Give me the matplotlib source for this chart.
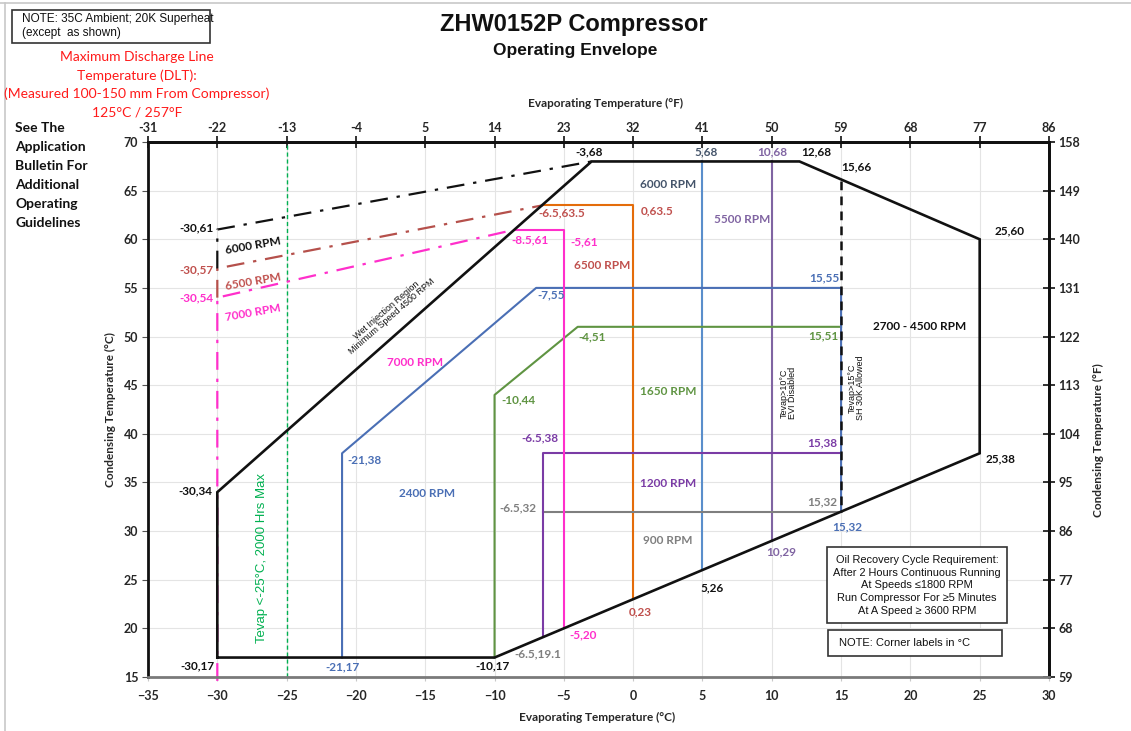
import matplotlib
matplotlib.use("Agg")
import matplotlib.pyplot as plt
from matplotlib.patches import Rectangle

# ---------------- data ----------------
envelope_x = [-30, -30, -3, 12, 25, 25, -10, -30]
envelope_y = [17, 34, 68, 68, 60, 38, 17, 17]

rpm2400_x = [-21, -21, -7, 15, 15]
rpm2400_y = [17, 38, 55, 55, 32]

rpm1650_x = [-10, -10, -4, 15]
rpm1650_y = [17, 44, 51, 51]

rpm1200_x = [-6.5, -6.5, 15]
rpm1200_y = [19.1, 38, 38]

rpm900_x = [-6.5, 15]
rpm900_y = [32, 32]

rpm7000_x = [-8.5, -5, -5]
rpm7000_y = [61, 61, 20]

rpm6500_x = [-6.5, 0, 0]
rpm6500_y = [63.5, 63.5, 23]

rpm6000_x = [5, 5]
rpm6000_y = [68, 26]

rpm5500_x = [10, 10]
rpm5500_y = [68, 29]

sh_x = [15, 15]
sh_y = [66, 32]

dlt6000_x = [-30, -30, -3]
dlt6000_y = [57, 61, 68]
dlt6500_x = [-30, -30, -6.5]
dlt6500_y = [54, 57, 63.5]
dlt7000_x = [-30, -30, -8.5]
dlt7000_y = [14.6, 54, 61]

tevap25_x = [-25, -25]
tevap25_y = [15, 70]

xticks_c = [-35, -30, -25, -20, -15, -10, -5, 0, 5, 10, 15, 20, 25, 30]
yticks_c = [15, 20, 25, 30, 35, 40, 45, 50, 55, 60, 65, 70]

# corner labels: (x, y, text, color key)
corner_labels = [
    (-30, 61, "-30,61", "k"), (-30, 57, "-30,57", "brown"), (-30, 54, "-30,54", "pink"),
    (-30, 34, "-30,34", "k"), (-30, 17, "-30,17", "k"), (-21, 38, "-21,38", "blue"),
    (-21, 17, "-21,17", "blue"), (-10, 17, "-10,17", "k"), (-10, 44, "-10,44", "green"),
    (-7, 55, "-7,55", "blue"), (-4, 51, "-4,51", "green"), (-8.5, 61, "-8.5,61", "pink"),
    (-5, 61, "-5,61", "pink"), (-6.5, 63.5, "-6.5,63.5", "brown"), (0, 63.5, "0,63.5", "brown"),
    (-3, 68, "-3,68", "k"), (5, 68, "5,68", "slate"), (10, 68, "10,68", "lpurple"),
    (12, 68, "12,68", "k"), (15, 66, "15,66", "k"), (25, 60, "25,60", "k"),
    (15, 55, "15,55", "blue"), (15, 51, "15,51", "green"), (-6.5, 38, "-6.5,38", "purple"),
    (15, 38, "15,38", "purple"), (-6.5, 32, "-6.5,32", "gray"), (15, 32, "15,32", "gray"),
    (15, 32, "15,32", "blue"), (10, 29, "10,29", "lpurple"), (5, 26, "5,26", "k"),
    (0, 23, "0,23", "brown"), (-5, 20, "-5,20", "pink"), (-6.5, 19.1, "-6.5,19.1", "gray"),
    (25, 38, "25,38", "k"),
]
# label offsets in pixels (dx, dy up), same order as corner_labels
label_offsets = [
    (-21, 2), (-21, -1), (-21, 0), (-22, 1), (-20, -8), (22, -7), (0, -9), (-2, -8),
    (24, -5), (15, -7), (14, -10), (15, -10), (20, -12), (19, -8), (24, -6), (-2, 10),
    (4, 10), (1, 10), (17, 10), (15, 14), (30, 8), (-17, 10), (-18, -9), (-3, 15),
    (-19, 10), (-25, 4), (-19, 10), (6, -15), (9, -11), (10, -18), (7, -13), (19, -6),
    (-5, -17), (21, -6),
]

C = {
    "k": "#111111", "brown": "#C0504D", "pink": "#FF2FCB", "blue": "#4A6FB5",
    "green": "#5F9442", "purple": "#7A3BA5", "lpurple": "#8064A2", "gray": "#7F7F7F",
    "slate": "#44546A", "orange": "#E46C0A", "lblue": "#5A8ECB", "tgreen": "#00B050",
}

FONT = "Lato"
ARIAL = "Liberation Sans"

W, H = 1131, 731
fig = plt.figure(figsize=(W / 100, H / 100), dpi=100)
ax = fig.add_axes([148 / W, 1 - 677 / H, (1049 - 148) / W, (677 - 142) / H])
ax.set_xlim(-35, 30)
ax.set_ylim(15, 70)

# grid
for v in xticks_c:
    ax.axvline(v, color="#e4e4e4", lw=0.8, zorder=0)
for v in yticks_c:
    ax.axhline(v, color="#e4e4e4", lw=0.8, zorder=0)

# lines
ax.plot(tevap25_x, tevap25_y, color=C["tgreen"], lw=1.0, ls=(0, (3, 2)), zorder=2)
ax.plot(dlt7000_x, dlt7000_y, color=C["pink"], lw=1.6, ls=(0, (8, 4, 1.5, 4)), zorder=2, clip_on=False)
ax.plot(dlt6500_x, dlt6500_y, color="#B5504B", lw=1.6, ls=(0, (8, 4, 1.5, 4)), zorder=2)
ax.plot(dlt6000_x, dlt6000_y, color="#111111", lw=1.6, ls=(0, (8, 4, 1.5, 4)), zorder=2)

ax.plot(rpm6500_x, rpm6500_y, color=C["orange"], lw=1.5, zorder=3)
ax.plot(rpm6000_x, rpm6000_y, color=C["lblue"], lw=1.5, zorder=3)
ax.plot(rpm5500_x, rpm5500_y, color=C["lpurple"], lw=1.5, zorder=3)
ax.plot(rpm900_x, rpm900_y, color=C["gray"], lw=1.5, zorder=3)
ax.plot(rpm1200_x, rpm1200_y, color=C["purple"], lw=1.5, zorder=3)
ax.plot(rpm1650_x, rpm1650_y, color=C["green"], lw=1.5, zorder=3)
ax.plot(rpm2400_x, rpm2400_y, color=C["blue"], lw=1.5, zorder=3)
ax.plot(rpm7000_x, rpm7000_y, color=C["pink"], lw=1.5, zorder=3)
ax.plot(sh_x, sh_y, color="#111111", lw=1.8, ls=(0, (3.5, 2.5)), zorder=4)
ax.plot(envelope_x, envelope_y, color="#111111", lw=1.9, zorder=5, solid_joinstyle="miter")

# corner labels
for (x, y, t, ck), (dx, dy) in zip(corner_labels, label_offsets):
    ax.annotate(t, (x, y), xytext=(dx, dy), textcoords="offset pixels",
                ha="center", va="center", color=C[ck], fontsize=8.5,
                fontweight="bold", family=FONT, zorder=6)

# region texts (data coordinates)
def rt(x, y, t, ck, **kw):
    d = dict(ha="center", va="center", color=C[ck], fontsize=8.5,
             fontweight="bold", family=FONT, zorder=6)
    d.update(kw)
    ax.text(x, y, t, **d)

rt(-15.7, 47.3, "7000 RPM", "pink")
rt(-14.9, 33.9, "2400 RPM", "blue")
rt(2.5, 44.3, "1650 RPM", "green")
rt(2.5, 34.9, "1200 RPM", "purple")
rt(2.5, 29.0, "900 RPM", "gray")
rt(-2.2, 57.3, "6500 RPM", "brown")
rt(2.5, 65.6, "6000 RPM", "slate")
rt(7.9, 62.0, "5500 RPM", "lpurple")
rt(20.7, 51.0, "2700 - 4500 RPM", "k")
rt(-27.4, 59.3, "6000 RPM", "k", rotation=10)
rt(-27.4, 55.6, "6500 RPM", "brown", rotation=10)
rt(-27.4, 52.5, "7000 RPM", "pink", rotation=10)

ax.text(-17.6, 52.4, "Wet Injection Region\nMinimum Speed 4500 RPM", rotation=41,
        ha="center", va="center", fontsize=6.5, family=ARIAL, color="#111111",
        linespacing=1.0, zorder=6)
ax.text(-26.8, 27.2, "Tevap <-25°C, 2000 Hrs Max", rotation=90, ha="center",
        va="center", fontsize=9.5, family=ARIAL, color=C["tgreen"], zorder=6)
ax.text(11.2, 44.2, "Tevap>10°C\nEVI Disabled", rotation=90, ha="center", va="center",
        fontsize=6.5, family=ARIAL, color="#111111", linespacing=1.0, zorder=6)
ax.text(16.1, 44.7, "Tevap>15°C\nSH 30K Allowed", rotation=90, ha="center", va="center",
        fontsize=6.5, family=ARIAL, color="#111111", linespacing=1.0, zorder=6)

# axes styling
ax.set_xticks(xticks_c)
ax.set_yticks(yticks_c)
for lab in ax.get_xticklabels() + ax.get_yticklabels():
    lab.set_fontfamily(FONT)
    lab.set_fontweight("bold")
    lab.set_fontsize(9)
    lab.set_color("#262626")
ax.tick_params(axis="x", direction="out", length=3, color="#c8c8c8", pad=6)
ax.tick_params(axis="y", direction="out", length=4, color="#555555", pad=3)
for s in ["left", "top", "right"]:
    ax.spines[s].set_color("#111111")
    ax.spines[s].set_linewidth(2)
ax.spines["bottom"].set_color("#7a7a7a")
ax.spines["bottom"].set_linewidth(2)

c2f = lambda c: c * 9 / 5 + 32
f2c = lambda f: (f - 32) * 5 / 9
secx = ax.secondary_xaxis("top", functions=(c2f, f2c))
secx.set_xticks([c2f(v) for v in xticks_c])
secx.set_xticklabels([f"{c2f(v):.0f}" for v in xticks_c])
secx.tick_params(direction="inout", length=9, width=1.2, color="#111111", pad=1)
secx.spines["top"].set_linewidth(2)
secy = ax.secondary_yaxis("right", functions=(c2f, f2c))
secy.set_yticks([c2f(v) for v in yticks_c])
secy.set_yticklabels([f"{c2f(v):.0f}" for v in yticks_c])
secy.tick_params(direction="inout", length=9, width=1.2, color="#111111", pad=2)
secy.spines["right"].set_linewidth(2)
for lab in secx.get_xticklabels() + secy.get_yticklabels():
    lab.set_fontfamily(FONT)
    lab.set_fontweight("bold")
    lab.set_fontsize(9)
    lab.set_color("#262626")

# axis titles
def ft(px, py, t, **kw):
    fig.text(px / W, 1 - py / H, t, **kw)

ft(597, 717, "Evaporating Temperature (°C)", ha="center", va="center", fontsize=8.5,
   fontweight="bold", family=FONT, color="#262626")
ft(605, 103, "Evaporating Temperature (°F)", ha="center", va="center", fontsize=8.5,
   fontweight="bold", family=FONT, color="#262626")
ft(110, 410, "Condensing Temperature (°C)", ha="center", va="center", fontsize=8.5,
   fontweight="bold", family=FONT, color="#262626", rotation=90)
ft(1098, 440, "Condensing Temperature (°F)", ha="center", va="center", fontsize=8.5,
   fontweight="bold", family=FONT, color="#262626", rotation=90)

# titles
ft(574, 25, "ZHW0152P Compressor", ha="center", va="center", fontsize=17,
   fontweight="bold", family=ARIAL, color="#111111")
ft(575, 50, "Operating Envelope", ha="center", va="center", fontsize=12.5,
   fontweight="bold", family=ARIAL, color="#111111")

# top-left note
fig.patches.append(Rectangle((12 / W, 1 - 43 / H), 198 / W, 33 / H, transform=fig.transFigure,
                             fill=False, ec="#333333", lw=1.2))
ft(22, 19, "NOTE: 35C Ambient; 20K Superheat", ha="left", va="center", fontsize=8.5,
   family=ARIAL, color="#111111")
ft(22, 33, "(except  as shown)", ha="left", va="center", fontsize=8.5,
   family=ARIAL, color="#111111")

red_lines = ["Maximum Discharge Line", "Temperature (DLT):",
             "(Measured 100-150 mm From Compressor)", "125°C / 257°F"]
for i, t in enumerate(red_lines):
    ft(137, 57 + i * 18.4, t, ha="center", va="center", fontsize=10,
       family=FONT, color="#FF1A1A")

see_lines = ["See The", "Application", "Bulletin For", "Additional", "Operating", "Guidelines"]
for i, t in enumerate(see_lines):
    ft(15, 128 + i * 18.9, t, ha="left", va="center", fontsize=10,
       fontweight="bold", family=FONT, color="#111111")

# boxes lower right
fig.patches.append(Rectangle((827 / W, 1 - 623 / H), 180 / W, 76 / H, transform=fig.transFigure,
                             fc="white", ec="#333333", lw=1.2, zorder=10))
oil_lines = ["Oil Recovery Cycle Requirement:", "After 2 Hours Continuous Running",
             "At Speeds \u22641800 RPM", "Run Compressor For \u22655 Minutes",
             "At A Speed \u2265 3600 RPM"]
for i, t in enumerate(oil_lines):
    ft(917, 560 + i * 12.7, t, ha="center", va="center", fontsize=7.9,
       family=ARIAL, color="#111111", zorder=11)
fig.patches.append(Rectangle((828 / W, 1 - 656 / H), 174 / W, 26 / H, transform=fig.transFigure,
                             fc="white", ec="#333333", lw=1.2, zorder=10))
ft(839, 643, "NOTE: Corner labels in °C", ha="left", va="center", fontsize=8,
   family=ARIAL, color="#111111", zorder=11)

# faint page frame
fig.add_artist(plt.Line2D([0, 1], [1 - 3 / H, 1 - 3 / H], transform=fig.transFigure,
                          color="#c8c8c8", lw=1.2))
fig.add_artist(plt.Line2D([5 / W, 5 / W], [0, 1 - 3 / H], transform=fig.transFigure,
                          color="#c8c8c8", lw=1.2))

fig.savefig("out.png", dpi=100, facecolor="white")
